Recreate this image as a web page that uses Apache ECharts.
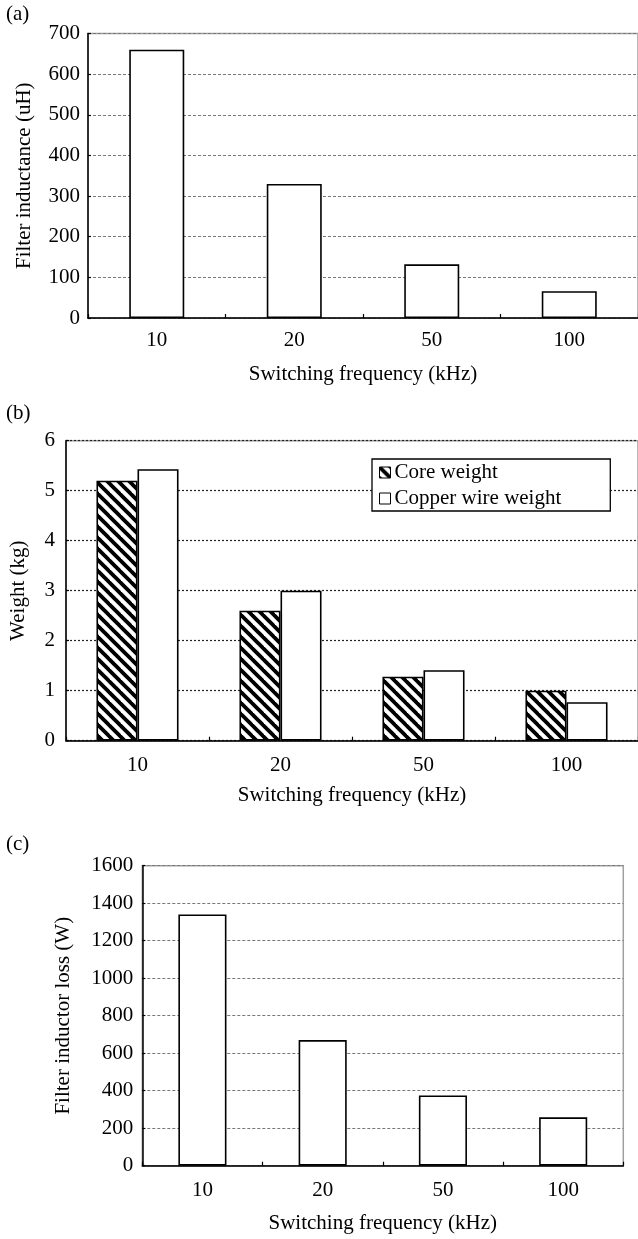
<!DOCTYPE html>
<html>
<head>
<meta charset="utf-8">
<script src="https://cdn.jsdelivr.net/npm/echarts@6/dist/echarts.min.js"></script>
<style>
html,body{margin:0;padding:0;background:#fff;}
#main{width:638px;height:1239px;}
</style>
</head>
<body>
<div id="main"></div>
<script>
const categories = ['10', '20', '50', '100'];
const inductance = [660, 330, 132, 66];
const coreWeight = [5.2, 2.6, 1.28, 1.0];
const copperWeight = [5.43, 3.0, 1.41, 0.77];
const inductorLoss = [1340, 670, 375, 258];
const xName = 'Switching frequency (kHz)';

const FONT = 'Liberation Serif';
const FS = 21;

// hatch pattern
const pc = document.createElement('canvas');
pc.width = 11; pc.height = 11;
const g = pc.getContext('2d');
g.fillStyle = '#fff'; g.fillRect(0, 0, 11, 11);
g.strokeStyle = '#000'; g.lineWidth = 3.8;
[-11, 0, 11].forEach((dx) => {
  g.beginPath(); g.moveTo(-2 + dx, -2); g.lineTo(13 + dx, 13); g.stroke();
});
const hatch = { image: pc, repeat: 'repeat' };

const chart = echarts.init(document.getElementById('main'), null, { renderer: 'canvas' });

function xAxisCfg(gi, labelMargin, nameGap) {
  return {
    type: 'category', gridIndex: gi, data: categories,
    name: xName, nameLocation: 'middle', nameGap: nameGap,
    nameTextStyle: { fontFamily: FONT, fontSize: FS, color: '#000' },
    axisLine: { lineStyle: { color: '#000', width: 1.5 } },
    axisTick: { show: true, inside: true, length: 4, lineStyle: { color: '#000', width: 1.2 } },
    axisLabel: { fontFamily: FONT, fontSize: FS, color: '#000', margin: labelMargin },
    splitLine: { show: false }
  };
}
function yAxisCfg(gi, max, interval, name, nameGap, labelMargin, split) {
  return {
    type: 'value', gridIndex: gi, min: 0, max: max, interval: interval,
    name: name, nameLocation: 'middle', nameGap: nameGap,
    nameTextStyle: { fontFamily: FONT, fontSize: FS, color: '#000' },
    axisLine: { show: true, lineStyle: { color: '#000', width: 1.5 } },
    axisTick: { show: true, inside: true, length: 3, lineStyle: { color: '#000', width: 1.2 } },
    axisLabel: { fontFamily: FONT, fontSize: FS, color: '#000', margin: labelMargin, formatter: (v) => String(v) },
    splitLine: { show: true, lineStyle: split }
  };
}

const barStyle = { color: '#fff', borderColor: '#000', borderWidth: 1.6 };

chart.setOption({
  animation: false,
  backgroundColor: '#fff',
  title: [
    { text: '(a)', left: 6, top: 4, textStyle: { fontFamily: FONT, fontSize: FS, fontWeight: 'normal', color: '#000' }, padding: 0 },
    { text: '(b)', left: 6, top: 403, textStyle: { fontFamily: FONT, fontSize: FS, fontWeight: 'normal', color: '#000' }, padding: 0 },
    { text: '(c)', left: 6, top: 834, textStyle: { fontFamily: FONT, fontSize: FS, fontWeight: 'normal', color: '#000' }, padding: 0 }
  ],
  legend: {
    data: ['Core weight', 'Copper wire weight'],
    orient: 'vertical', left: 372, top: 459,
    itemWidth: 11, itemHeight: 11, itemGap: 5,
    icon: 'rect',
    padding: [3, 49, 2, 7],
    backgroundColor: '#fff', borderColor: '#000', borderWidth: 1.3,
    textStyle: { fontFamily: FONT, fontSize: FS, color: '#000', lineHeight: 21, padding: [0, 0, 0, -1] },
    itemStyle: { borderColor: '#000', borderWidth: 1 }
  },
  grid: [
    { left: 88, top: 33.5, width: 588.8, height: 284.5, show: true, borderColor: '#a0a0a0', borderWidth: 1.5 },
    { left: 64.3, top: 440.7, width: 580, height: 300, show: true, borderColor: '#a0a0a0', borderWidth: 1.5 },
    { left: 142.3, top: 865.7, width: 481, height: 300, show: true, borderColor: '#a0a0a0', borderWidth: 1.5 }
  ],
  xAxis: [
    xAxisCfg(0, 12, 46),
    xAxisCfg(1, 14, 44),
    xAxisCfg(2, 14, 47)
  ],
  yAxis: [
    yAxisCfg(0, 700, 100, 'Filter inductance (uH)', 53, 8, { color: '#777', width: 1, type: [3, 2] }),
    yAxisCfg(1, 6, 1, 'Weight (kg)', 37, 11, { color: '#222', width: 1.2, type: [2, 2] }),
    yAxisCfg(2, 1600, 200, 'Filter inductor loss (W)', 68, 9, { color: '#777', width: 1, type: [3, 2] })
  ],
  series: [
    { type: 'bar', name: 'Filter inductance', xAxisIndex: 0, yAxisIndex: 0, data: inductance, barWidth: '40%', itemStyle: barStyle },
    { type: 'bar', name: 'Core weight', xAxisIndex: 1, yAxisIndex: 1, data: coreWeight, barWidth: '28.7%', barGap: '0%', itemStyle: { color: hatch, borderColor: '#000', borderWidth: 1.6 } },
    { type: 'bar', name: 'Copper wire weight', xAxisIndex: 1, yAxisIndex: 1, data: copperWeight, barWidth: '28.7%', barGap: '0%', itemStyle: barStyle },
    { type: 'bar', name: 'Filter inductor loss', xAxisIndex: 2, yAxisIndex: 2, data: inductorLoss, barWidth: '40%', itemStyle: barStyle }
  ]
});
</script>
</body>
</html>
